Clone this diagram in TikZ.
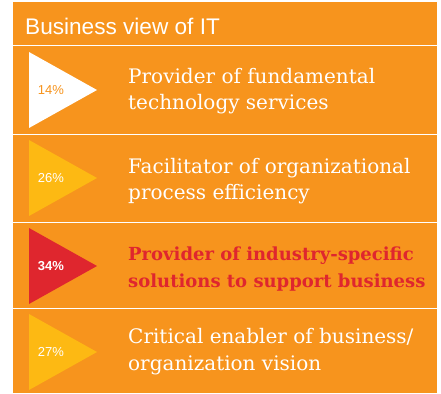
\documentclass[tikz,border=0pt]{standalone}
\usepackage{fontspec}
\setmainfont{DejaVu Serif}
\newfontfamily\hdrfont{Liberation Sans}
\newfontfamily\slabfont{DejaVu Serif}
\definecolor{bgorange}{HTML}{F7941D}
\definecolor{triyellow}{HTML}{FDB913}
\definecolor{trired}{HTML}{DF262E}
\begin{document}
\begin{tikzpicture}[x=1pt,y=-1pt,
  rowtext/.style={anchor=base west,inner sep=0pt,text=white,font=\slabfont\fontsize{20}{24}\selectfont},
  redtext/.style={rowtext,text=trired,font=\slabfont\bfseries\fontsize{18}{22}\selectfont},
  pct/.style={inner sep=0pt,font=\hdrfont\fontsize{13}{15}\selectfont},
  sepline/.style={draw=white,line width=1pt}]
\useasboundingbox (0,0) rectangle (441,393);
\fill[bgorange] (13,2) rectangle (437,393);
% separators
\coordinate (s0l) at (13,45.5); \coordinate (s0r) at (437,45.5);
\coordinate (s1l) at (13,134.5); \coordinate (s1r) at (437,134.5);
\coordinate (s2l) at (13,222.5); \coordinate (s2r) at (437,222.5);
\coordinate (s3l) at (13,308.5); \coordinate (s3r) at (437,308.5);
\draw[sepline] (s0l) -- (s0r);
\draw[sepline] (s1l) -- (s1r);
\draw[sepline] (s2l) -- (s2r);
\draw[sepline] (s3l) -- (s3r);
% header
\node[anchor=base west,inner sep=0pt,text=white,font=\hdrfont\fontsize{22.6}{26}\selectfont] (hdr) at (25,35) {Business view of IT};
% triangles
\fill[white] (29,52) -- (97,90) -- (29,128) -- cycle;
\fill[triyellow] (29,140) -- (97,178) -- (29,216) -- cycle;
\fill[trired] (29,228) -- (97,266) -- (29,304) -- cycle;
\fill[triyellow] (29,314) -- (97,352) -- (29,390) -- cycle;
% percents
\node[pct,text=bgorange] (p1) at (51,90) {14\%};
\node[pct,text=white] (p2) at (51,178) {26\%};
\node[pct,text=white,font=\hdrfont\bfseries\fontsize{13}{15}\selectfont] (p3) at (51,266) {34\%};
\node[pct,text=white] (p4) at (51,352) {27\%};
% texts
\node[rowtext] (r1a) at (128,84) {Provider of fundamental};
\node[rowtext] (r1b) at (128,110) {technology services};
\node[rowtext] (r2a) at (128,173) {Facilitator of organizational};
\node[rowtext] (r2b) at (128,199) {process efficiency};
\node[redtext] (r3a) at (128,260) {Provider of industry-specific};
\node[redtext] (r3b) at (128,287) {solutions to support business};
\node[rowtext] (r4a) at (128,343) {Critical enabler of business/};
\node[rowtext] (r4b) at (128,370) {organization vision};
\end{tikzpicture}
\end{document}
